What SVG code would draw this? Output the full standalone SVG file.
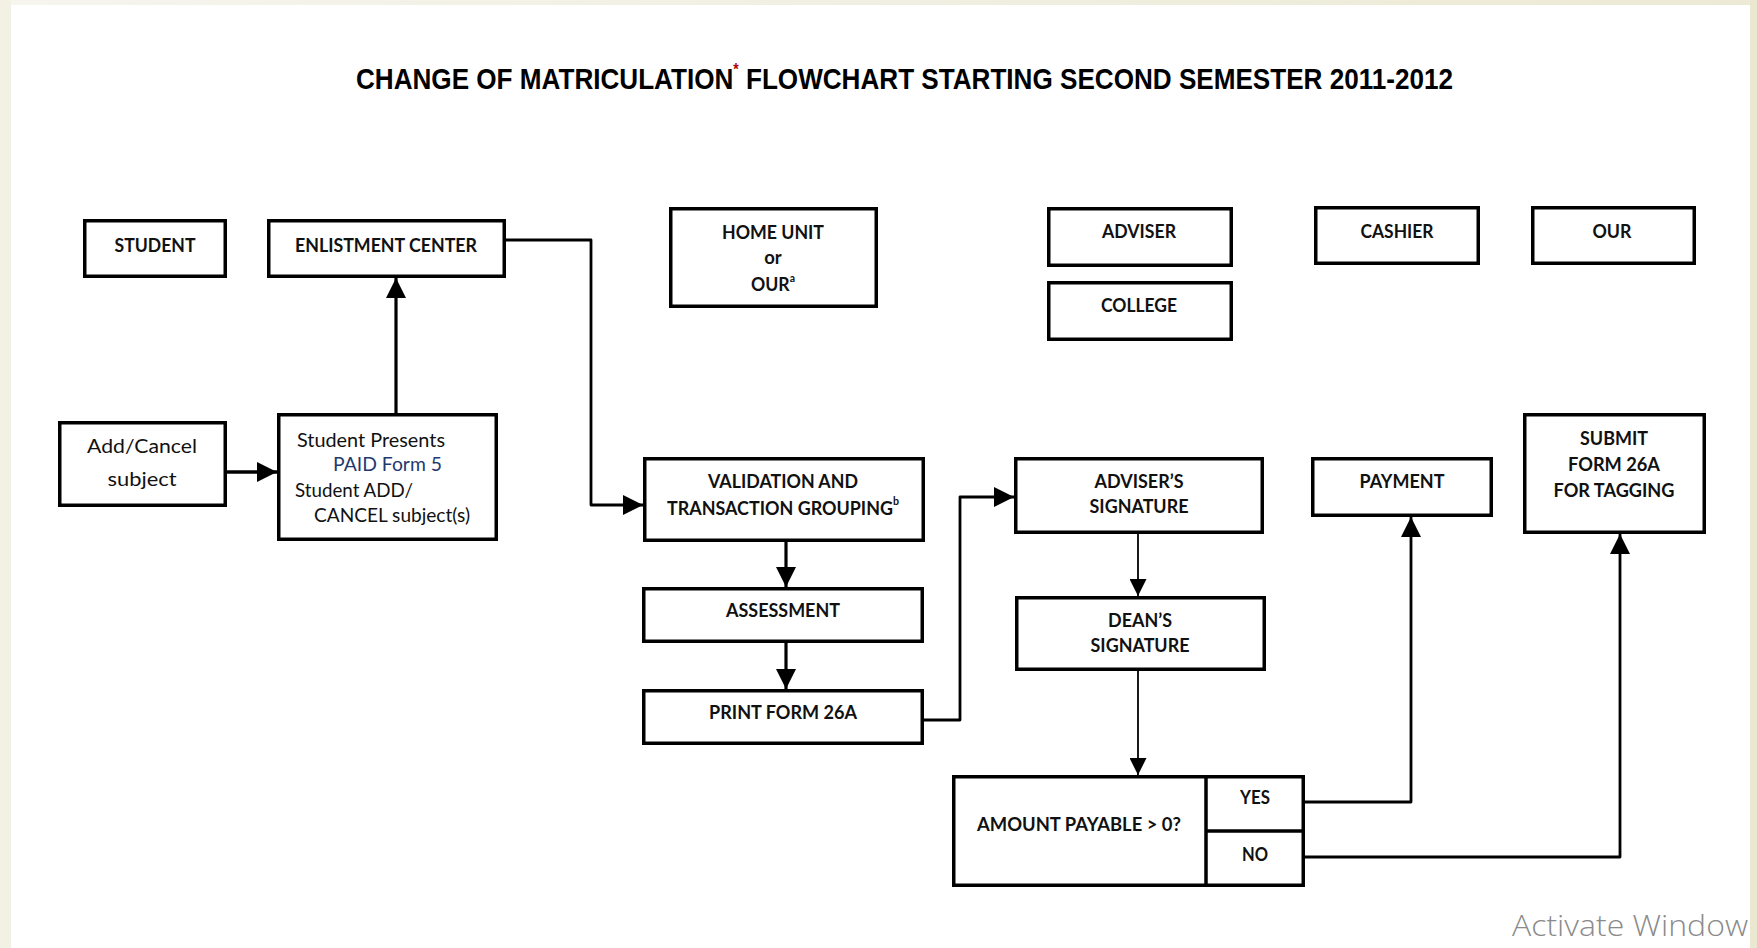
<svg xmlns="http://www.w3.org/2000/svg" width="1757" height="948" viewBox="0 0 1757 948">
  <defs>
    <linearGradient id="topBand" x1="0" y1="0" x2="1" y2="0">
      <stop offset="0" stop-color="#f6f5ee"/>
      <stop offset="1" stop-color="#ece9d4"/>
    </linearGradient>
    <marker id="arrow" viewBox="0 0 20 20" refX="20" refY="10" markerWidth="20" markerHeight="20" markerUnits="userSpaceOnUse" orient="auto">
      <path d="M0,0 L20,10 L0,20 Z" fill="#000"/>
    </marker>
    <marker id="arrowSm" viewBox="0 0 20 20" refX="20" refY="10" markerWidth="17" markerHeight="17" markerUnits="userSpaceOnUse" orient="auto">
      <path d="M0,0 L20,10 L0,20 Z" fill="#000"/>
    </marker>
  </defs>
  <style>
    .box { fill: #fff; stroke: #000; stroke-width: 3.5; }
    .div { fill: none; stroke: #000; stroke-width: 3.5; }
    .lbl { font-family: Lato, "Liberation Sans", sans-serif; font-size: 18.5px; font-weight: 700; fill: #111; text-anchor: middle; }
    .lbl.start { text-anchor: start; }
    .txt { font-family: Lato, "Liberation Sans", sans-serif; font-size: 19.5px; font-weight: 400; fill: #111; }
    .sup { font-size: 11px; }
    .title { font-family: "Liberation Sans", Arial, sans-serif; font-size: 30px; font-weight: 700; fill: #000; }
    .wire { fill: none; stroke: #000; stroke-width: 2.8; stroke-linejoin: round; }
    .thin { fill: none; stroke: #000; stroke-width: 1.8; }
  </style>

  <!-- page -->
  <rect x="0" y="0" width="1757" height="948" fill="#ffffff"/>
  <rect x="0" y="0" width="1757" height="5" fill="url(#topBand)"/>
  <rect x="0" y="0" width="11" height="948" fill="#f3f1e4"/>
  <rect x="1750" y="0" width="7" height="948" fill="#ebe8d2"/>

  <!-- title -->
  <g id="title">
    <text class="title" x="356" y="89" textLength="1097" lengthAdjust="spacingAndGlyphs">CHANGE OF MATRICULATION<tspan dy="-14" font-size="16" fill="#b00000">*</tspan><tspan dy="14"> FLOWCHART STARTING SECOND SEMESTER 2011-2012</tspan></text>
  </g>

  <!-- header nodes -->
  <g id="student">
    <rect class="box" x="84.75" y="220.75" width="140.5" height="55.5"/>
    <text class="lbl" x="155" y="252" textLength="81" lengthAdjust="spacingAndGlyphs">STUDENT</text>
  </g>
  <g id="enlistment-center">
    <rect class="box" x="268.75" y="220.75" width="235.5" height="55.5"/>
    <text class="lbl" x="386" y="252" textLength="182" lengthAdjust="spacingAndGlyphs">ENLISTMENT CENTER</text>
  </g>
  <g id="home-unit">
    <rect class="box" x="670.75" y="208.75" width="205.5" height="97.5"/>
    <text class="lbl" x="773" y="239" textLength="102" lengthAdjust="spacingAndGlyphs">HOME UNIT</text>
    <text class="lbl" x="773" y="264">or</text>
    <text class="lbl start" x="751" y="291" textLength="44" lengthAdjust="spacingAndGlyphs">OUR<tspan class="sup" dy="-9">a</tspan></text>
  </g>
  <g id="adviser">
    <rect class="box" x="1048.75" y="208.75" width="182.5" height="56.5"/>
    <text class="lbl" x="1139" y="238" textLength="74" lengthAdjust="spacingAndGlyphs">ADVISER</text>
  </g>
  <g id="college">
    <rect class="box" x="1048.75" y="282.75" width="182.5" height="56.5"/>
    <text class="lbl" x="1139" y="312" textLength="76" lengthAdjust="spacingAndGlyphs">COLLEGE</text>
  </g>
  <g id="cashier">
    <rect class="box" x="1315.75" y="207.75" width="162.5" height="55.5"/>
    <text class="lbl" x="1397" y="238" textLength="73" lengthAdjust="spacingAndGlyphs">CASHIER</text>
  </g>
  <g id="our">
    <rect class="box" x="1532.75" y="207.75" width="161.5" height="55.5"/>
    <text class="lbl" x="1612" y="238" textLength="39" lengthAdjust="spacingAndGlyphs">OUR</text>
  </g>

  <!-- process nodes -->
  <g id="add-cancel">
    <rect class="box" x="59.75" y="422.75" width="165.5" height="82.5"/>
    <text class="txt" x="142" y="453" text-anchor="middle" textLength="110" lengthAdjust="spacingAndGlyphs">Add/Cancel</text>
    <text class="txt" x="142" y="486" text-anchor="middle" textLength="69" lengthAdjust="spacingAndGlyphs">subject</text>
  </g>
  <g id="student-presents">
    <rect class="box" x="278.75" y="414.75" width="217.5" height="124.5"/>
    <text class="txt" x="297" y="447" font-size="18.5" textLength="148" lengthAdjust="spacingAndGlyphs">Student Presents</text>
    <text class="txt" x="333" y="471" font-size="18.5" font-weight="700" style="fill:#1f3a6e" textLength="109" lengthAdjust="spacingAndGlyphs">PAID Form 5</text>
    <text class="txt" x="295" y="497" font-size="18.5" textLength="118" lengthAdjust="spacingAndGlyphs">Student ADD/</text>
    <text class="txt" x="314" y="522" font-size="18.5" textLength="156" lengthAdjust="spacingAndGlyphs">CANCEL subject(s)</text>
  </g>
  <g id="validation">
    <rect class="box" x="644.75" y="458.75" width="278.5" height="81.5"/>
    <text class="lbl" x="783" y="488" textLength="150" lengthAdjust="spacingAndGlyphs">VALIDATION AND</text>
    <text class="lbl start" x="667" y="515" textLength="232" lengthAdjust="spacingAndGlyphs">TRANSACTION GROUPING<tspan class="sup" dy="-10">b</tspan></text>
  </g>
  <g id="assessment">
    <rect class="box" x="643.75" y="588.75" width="278.5" height="52.5"/>
    <text class="lbl" x="783" y="617" textLength="114" lengthAdjust="spacingAndGlyphs">ASSESSMENT</text>
  </g>
  <g id="print-form">
    <rect class="box" x="643.75" y="690.75" width="278.5" height="52.5"/>
    <text class="lbl" x="783" y="719" textLength="148" lengthAdjust="spacingAndGlyphs">PRINT FORM 26A</text>
  </g>
  <g id="adviser-signature">
    <rect class="box" x="1015.75" y="458.75" width="246.5" height="73.5"/>
    <text class="lbl" x="1139" y="488" textLength="89" lengthAdjust="spacingAndGlyphs">ADVISER’S</text>
    <text class="lbl" x="1139" y="513" textLength="99" lengthAdjust="spacingAndGlyphs">SIGNATURE</text>
  </g>
  <g id="dean-signature">
    <rect class="box" x="1016.75" y="597.75" width="247.5" height="71.5"/>
    <text class="lbl" x="1140" y="627" textLength="64" lengthAdjust="spacingAndGlyphs">DEAN’S</text>
    <text class="lbl" x="1140" y="652" textLength="99" lengthAdjust="spacingAndGlyphs">SIGNATURE</text>
  </g>
  <g id="payment">
    <rect class="box" x="1312.75" y="458.75" width="178.5" height="56.5"/>
    <text class="lbl" x="1402" y="488" textLength="85" lengthAdjust="spacingAndGlyphs">PAYMENT</text>
  </g>
  <g id="submit">
    <rect class="box" x="1524.75" y="414.75" width="179.5" height="117.5"/>
    <text class="lbl" x="1614" y="445" textLength="68" lengthAdjust="spacingAndGlyphs">SUBMIT</text>
    <text class="lbl" x="1614" y="471" textLength="92" lengthAdjust="spacingAndGlyphs">FORM 26A</text>
    <text class="lbl" x="1614" y="497" textLength="121" lengthAdjust="spacingAndGlyphs">FOR TAGGING</text>
  </g>
  <g id="amount-payable">
    <rect class="box" x="953.75" y="776.75" width="349.5" height="108.5"/>
    <path class="div" d="M1206,776.75 V885.25 M1206,831 H1303.25"/>
    <text class="lbl" x="1079" y="831" textLength="204" lengthAdjust="spacingAndGlyphs">AMOUNT PAYABLE &gt; 0?</text>
    <text class="lbl" x="1255" y="804" textLength="30" lengthAdjust="spacingAndGlyphs">YES</text>
    <text class="lbl" x="1255" y="861" textLength="26" lengthAdjust="spacingAndGlyphs">NO</text>
  </g>

  <!-- connectors -->
  <g id="connectors">
    <path class="wire" style="stroke-width:3.4" d="M227,472 H277" marker-end="url(#arrow)"/>
    <path class="wire" style="stroke-width:3.2" d="M396,413 V278" marker-end="url(#arrow)"/>
    <path class="wire" d="M506,240 H591 V505 H643" marker-end="url(#arrow)"/>
    <path class="wire" style="stroke-width:3.2" d="M786,542 V587" marker-end="url(#arrow)"/>
    <path class="wire" style="stroke-width:3.2" d="M786,643 V689" marker-end="url(#arrow)"/>
    <path class="wire" d="M924,720 H960 V497 H1014" marker-end="url(#arrow)"/>
    <path class="thin" d="M1138,534 V596" marker-end="url(#arrowSm)"/>
    <path class="thin" d="M1138,671 V775" marker-end="url(#arrowSm)"/>
    <path class="wire" d="M1305,802 H1411 V517" marker-end="url(#arrow)"/>
    <path class="wire" d="M1305,857 H1620 V534" marker-end="url(#arrow)"/>
  </g>

  <text x="1512" y="936" font-family="'Open Sans', 'Noto Sans', sans-serif" font-size="30" font-weight="300" fill="#8a8a8a" textLength="236" lengthAdjust="spacingAndGlyphs">Activate Window</text>
</svg>
